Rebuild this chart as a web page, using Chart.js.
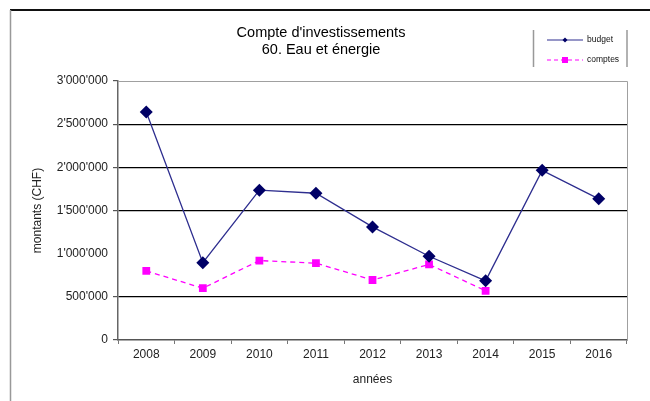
<!DOCTYPE html>
<html lang="fr">
<head>
<meta charset="UTF-8">
<title>Compte d'investissements - 60. Eau et énergie</title>
<script src="https://cdn.jsdelivr.net/npm/chart.js"></script>
<style>
    body { margin: 0; background: #fff; font-family: "Liberation Sans", Arial, sans-serif; }
    #wrap { width: 650px; height: 401px; }
</style>
</head>
<body>
<div id="wrap"><canvas id="chart" width="650" height="401"></canvas></div>
<script>
// values
const years = ['2008', '2009', '2010', '2011', '2012', '2013', '2014', '2015', '2016'];
const budget = [2640000, 895000, 1735000, 1700000, 1310000, 970000, 685000, 1965000, 1635000];
const comptes = [800000, 600000, 920000, 890000, 695000, 875000, 570000, null, null];
const yTicks = [0, 500000, 1000000, 1500000, 2000000, 2500000, 3000000];
const titleLines = ["Compte d'investissements", "60. Eau et énergie"];
const legendLabels = ['budget', 'comptes'];

const FONT = '"Liberation Sans", Arial, sans-serif';

function fmt(v) {
    return String(v).replace(/\B(?=(\d{3})+(?!\d))/g, "'");
}

// frame, title, plot border and the little legend box
const decor = {
    id: 'decor',
    beforeDraw(chart) {
        const c = chart.ctx;
        c.save();
        c.fillStyle = '#fff';
        c.fillRect(0, 0, chart.width, chart.height);
        c.restore();
    },
    afterDraw(chart) {
        const c = chart.ctx;
        const a = chart.chartArea;
        c.save();
        // outer frame (top + left only, picture is cropped)
        c.strokeStyle = '#111';
        c.lineWidth = 2;
        c.beginPath();
        c.moveTo(10, 10); c.lineTo(650, 10);
        c.stroke();
        c.strokeStyle = '#999';
        c.lineWidth = 1.5;
        c.beginPath();
        c.moveTo(10.5, 10); c.lineTo(10.5, 401);
        c.stroke();

        // plot area top / right border
        c.strokeStyle = '#a0a0a0';
        c.lineWidth = 1;
        c.beginPath();
        c.moveTo(a.left, a.top + 0.5); c.lineTo(a.right + 0.5, a.top + 0.5);
        c.lineTo(a.right + 0.5, a.bottom);
        c.stroke();

        // title
        c.fillStyle = '#000';
        c.font = '14.5px ' + FONT;
        c.textAlign = 'center';
        c.textBaseline = 'middle';
        c.fillText(titleLines[0], 321, 33);
        c.fillText(titleLines[1], 321, 50);

        // legend box
        c.strokeStyle = '#999';
        c.lineWidth = 1.5;
        c.beginPath();
        c.moveTo(533.5, 30); c.lineTo(533.5, 67);
        c.moveTo(627, 30); c.lineTo(627, 67);
        c.stroke();

        const ds = chart.data.datasets;
        // budget
        c.strokeStyle = ds[0].borderColor;
        c.lineWidth = 1.2;
        c.beginPath(); c.moveTo(547, 40); c.lineTo(583, 40); c.stroke();
        c.fillStyle = ds[0].pointBackgroundColor;
        c.beginPath();
        c.moveTo(565, 37.5); c.lineTo(567.5, 40); c.lineTo(565, 42.5); c.lineTo(562.5, 40);
        c.closePath(); c.fill();
        // comptes
        c.strokeStyle = ds[1].borderColor;
        c.setLineDash([4, 3]);
        c.beginPath(); c.moveTo(547, 60); c.lineTo(583, 60); c.stroke();
        c.setLineDash([]);
        c.fillStyle = ds[1].pointBackgroundColor;
        c.fillRect(562, 57, 6, 6);

        c.fillStyle = '#111';
        c.font = '8.5px ' + FONT;
        c.textAlign = 'left';
        c.fillText(legendLabels[0], 587, 40);
        c.fillText(legendLabels[1], 587, 60);
        c.restore();
    }
};

new Chart(document.getElementById('chart'), {
    type: 'line',
    data: {
        labels: years,
        datasets: [
            {
                label: legendLabels[0],
                data: budget,
                borderColor: '#2e2e8f',
                borderWidth: 1.3,
                pointStyle: 'rectRot',
                pointRadius: 6.5,
                pointBackgroundColor: '#000066',
                pointBorderColor: '#000066',
                pointBorderWidth: 0,
                tension: 0
            },
            {
                label: legendLabels[1],
                data: comptes,
                borderColor: '#ff00ff',
                borderWidth: 1.3,
                borderDash: [5, 4],
                pointStyle: 'rect',
                pointRadius: 5.5,
                pointBackgroundColor: '#ff00ff',
                pointBorderColor: '#ff00ff',
                pointBorderWidth: 0,
                tension: 0,
                spanGaps: false
            }
        ]
    },
    options: {
        responsive: false,
        animation: false,
        layout: { padding: { left: 0, top: 81, right: 23, bottom: 0 } },
        plugins: {
            legend: { display: false },
            title: { display: false },
            tooltip: { enabled: false }
        },
        scales: {
            x: {
                offset: true,
                afterFit(scale) { scale.height = 61; },
                grid: {
                    offset: true,
                    drawOnChartArea: false,
                    tickLength: 4,
                    tickColor: '#777'
                },
                border: { color: '#555', width: 1.5 },
                ticks: {
                    color: '#222',
                    padding: 3,
                    font: { family: FONT, size: 12 },
                    maxRotation: 0
                },
                title: {
                    display: true,
                    text: 'années',
                    color: '#222',
                    font: { family: FONT, size: 12 },
                    padding: { top: 0, bottom: 14 }
                }
            },
            y: {
                min: 0,
                max: 3000000,
                afterFit(scale) { scale.width = 118; },
                afterBuildTicks(scale) { scale.ticks = yTicks.map(v => ({ value: v })); },
                grid: {
                    color(ctx) {
                        const v = ctx.tick && ctx.tick.value;
                        if (v === 0 || v === 1000000 || v === 3000000) return 'rgba(0,0,0,0)';
                        return '#000';
                    },
                    tickColor(ctx) {
                        return ctx.tick && ctx.tick.value === 1000000 ? 'rgba(0,0,0,0)' : '#555';
                    },
                    lineWidth: 1.2,
                    tickLength: 5
                },
                border: { color: '#666', width: 1.5 },
                ticks: {
                    color: '#222',
                    padding: 5,
                    font: { family: FONT, size: 12 },
                    callback: v => fmt(v)
                },
                title: {
                    display: true,
                    text: 'montants (CHF)',
                    color: '#222',
                    font: { family: FONT, size: 12 },
                    padding: { top: 30, bottom: 0 }
                }
            }
        }
    },
    plugins: [decor]
});
</script>
</body>
</html>
